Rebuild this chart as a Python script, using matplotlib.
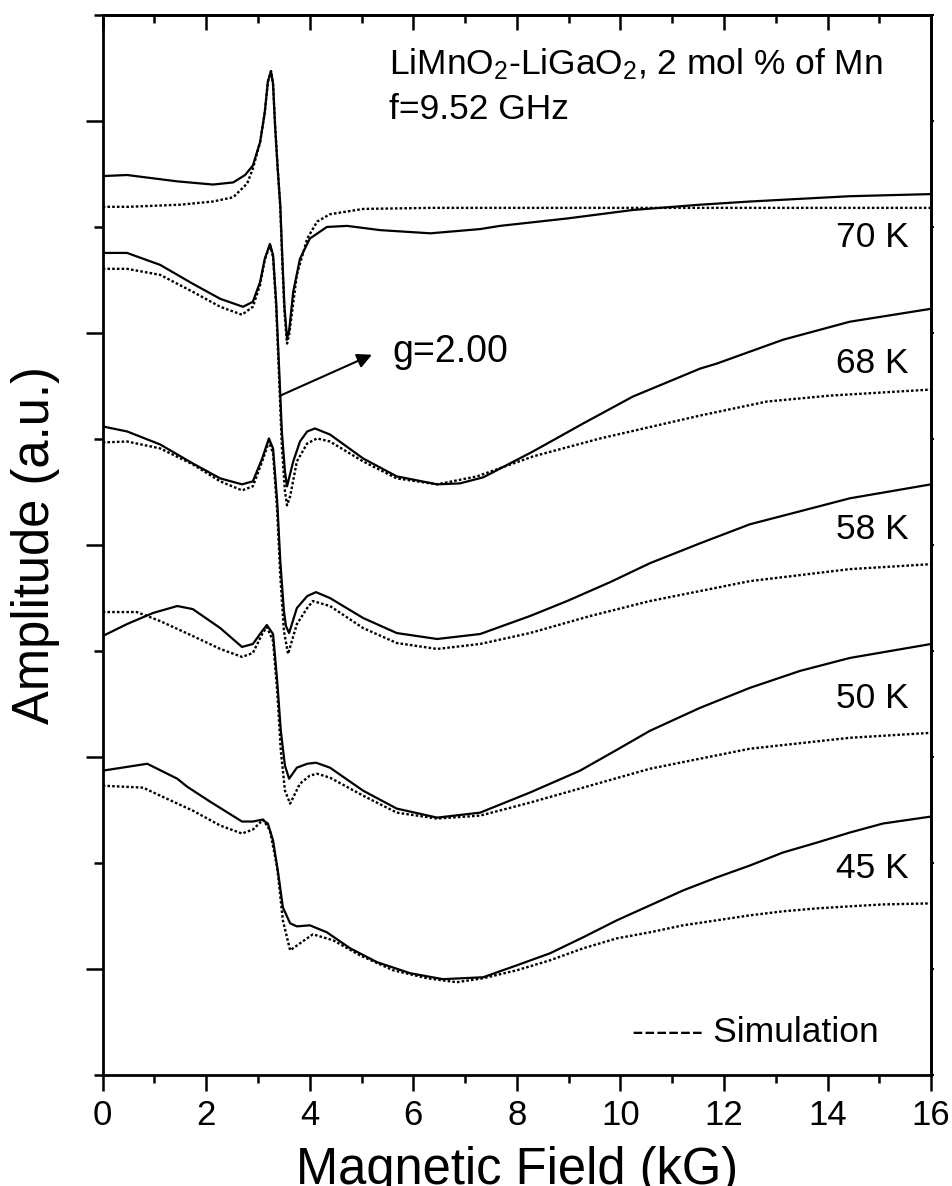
import matplotlib
matplotlib.use("Agg")
import matplotlib.pyplot as plt
from matplotlib.ticker import FixedLocator, NullFormatter

plt.rcParams["font.family"] = ["Liberation Sans", "DejaVu Sans"]
plt.rcParams["mathtext.fontset"] = "custom"
plt.rcParams["mathtext.rm"] = "Liberation Sans"
plt.rcParams["mathtext.it"] = "Liberation Sans:italic"

# EPR spectra, field in kG, amplitude offset per temperature (a.u.)
x_70 = [0.0, 0.47, 1.44, 2.13, 2.52, 2.75, 2.90, 3.04, 3.13, 3.19, 3.25, 3.29, 3.33, 3.38, 3.43,
        3.47, 3.51, 3.56, 3.60, 3.68, 3.81, 4.00, 4.33, 4.72, 5.36, 6.33, 7.29, 7.67, 8.97, 10.24,
        11.54, 12.50, 14.43, 16.0]
y_70 = [8.48, 8.49, 8.43, 8.40, 8.42, 8.49, 8.58, 8.80, 9.08, 9.37, 9.47, 9.35, 8.95, 8.55, 8.20,
        7.70, 7.25, 6.95, 7.02, 7.39, 7.70, 7.89, 8.00, 8.01, 7.97, 7.94, 7.98, 8.01, 8.08, 8.16,
        8.21, 8.24, 8.29, 8.31]
xs_70 = [0.0, 0.5, 1.0, 1.5, 2.13, 2.52, 2.79, 2.90, 3.04, 3.13, 3.19, 3.25, 3.29, 3.33, 3.38,
         3.43, 3.47, 3.51, 3.56, 3.60, 3.75, 3.95, 4.14, 4.39, 5.03, 6.33, 8.0, 10.0, 12.0, 14.0, 16.0]
ys_70 = [8.19, 8.19, 8.20, 8.21, 8.24, 8.28, 8.41, 8.55, 8.80, 9.08, 9.37, 9.47, 9.35, 8.95, 8.55,
         8.18, 7.65, 7.20, 6.90, 6.98, 7.55, 7.89, 8.05, 8.12, 8.17, 8.18, 8.18, 8.18, 8.18, 8.18, 8.18]

x_68 = [0.0, 0.47, 1.11, 1.74, 2.27, 2.71, 2.90, 3.04, 3.13, 3.23, 3.29, 3.35, 3.41, 3.46, 3.52,
        3.56, 3.68, 3.81, 3.95, 4.10, 4.39, 5.03, 5.68, 6.46, 6.90, 7.35, 8.31, 9.28, 10.24, 11.54,
        11.86, 13.14, 14.43, 16.0]
y_68 = [7.755, 7.755, 7.642, 7.464, 7.322, 7.247, 7.294, 7.482, 7.699, 7.840, 7.736, 7.294, 6.635,
        6.071, 5.694, 5.553, 5.788, 5.976, 6.071, 6.099, 6.042, 5.816, 5.647, 5.572, 5.581, 5.638,
        5.882, 6.146, 6.400, 6.664, 6.711, 6.936, 7.106, 7.228]
xs_68 = [0.0, 0.47, 1.11, 1.74, 2.27, 2.69, 2.90, 3.04, 3.13, 3.23, 3.29, 3.35, 3.41, 3.46, 3.52,
         3.56, 3.62, 3.75, 3.95, 4.14, 4.39, 5.03, 5.68, 6.46, 7.23, 8.31, 9.61, 11.54, 12.83, 14.05,
         16.0]
ys_68 = [7.605, 7.605, 7.548, 7.388, 7.247, 7.172, 7.247, 7.454, 7.690, 7.831, 7.718, 7.247, 6.541,
         5.930, 5.506, 5.374, 5.459, 5.788, 5.958, 6.005, 5.976, 5.788, 5.628, 5.572, 5.647, 5.835,
         6.005, 6.221, 6.353, 6.409, 6.466]

x_58 = [0.0, 0.47, 1.11, 1.74, 2.27, 2.69, 2.90, 3.08, 3.21, 3.29, 3.37, 3.43, 3.50, 3.54, 3.60,
        3.75, 3.95, 4.12, 4.39, 5.03, 5.68, 6.46, 7.29, 8.25, 8.97, 9.80, 10.57, 11.54, 12.50, 13.47,
        14.43, 16.0]
y_58 = [6.118, 6.071, 5.948, 5.769, 5.628, 5.572, 5.600, 5.816, 6.005, 5.911, 5.412, 4.847, 4.376,
        4.235, 4.169, 4.405, 4.518, 4.555, 4.499, 4.311, 4.169, 4.113, 4.160, 4.329, 4.471, 4.649,
        4.828, 5.016, 5.195, 5.318, 5.440, 5.572]
xs_58 = [0.0, 0.47, 1.11, 1.74, 2.27, 2.69, 2.90, 3.08, 3.21, 3.29, 3.37, 3.43, 3.50, 3.58, 3.75,
         3.95, 4.06, 4.39, 5.03, 5.68, 6.46, 7.29, 8.25, 9.41, 10.57, 12.50, 14.43, 16.0]
ys_58 = [5.967, 5.976, 5.911, 5.760, 5.600, 5.515, 5.553, 5.788, 5.976, 5.864, 5.318, 4.706, 4.188,
         3.972, 4.254, 4.405, 4.471, 4.424, 4.216, 4.075, 4.019, 4.066, 4.169, 4.329, 4.471, 4.659,
         4.772, 4.819]

x_50 = [0.0, 0.47, 0.97, 1.44, 1.74, 2.27, 2.69, 2.90, 3.08, 3.17, 3.29, 3.37, 3.44, 3.52, 3.60,
        3.75, 3.95, 4.12, 4.39, 5.03, 5.68, 6.46, 7.29, 8.25, 9.22, 9.90, 10.57, 11.54, 12.50, 13.47,
        14.43, 16.0]
y_50 = [4.141, 4.254, 4.358, 4.424, 4.395, 4.216, 4.038, 4.066, 4.188, 4.245, 4.160, 3.718, 3.247,
        2.918, 2.795, 2.899, 2.936, 2.946, 2.899, 2.682, 2.513, 2.428, 2.475, 2.664, 2.871, 3.059,
        3.247, 3.464, 3.652, 3.812, 3.934, 4.066]
xs_50 = [0.0, 0.66, 1.11, 1.74, 2.27, 2.69, 2.90, 3.08, 3.17, 3.29, 3.37, 3.44, 3.52, 3.62, 3.81,
         4.00, 4.14, 4.39, 5.03, 5.68, 6.46, 7.29, 8.25, 9.41, 10.57, 12.50, 14.43, 16.0]
ys_50 = [4.367, 4.367, 4.282, 4.141, 4.019, 3.944, 3.981, 4.160, 4.226, 4.094, 3.624, 3.059, 2.682,
         2.560, 2.748, 2.824, 2.842, 2.805, 2.635, 2.475, 2.419, 2.447, 2.569, 2.729, 2.889, 3.078,
         3.181, 3.228]

x_45 = [0.0, 0.86, 1.44, 1.63, 2.07, 2.69, 2.90, 3.08, 3.19, 3.29, 3.39, 3.48, 3.62, 3.75, 4.00,
        4.33, 4.78, 5.30, 5.94, 6.57, 7.35, 8.00, 8.64, 9.28, 9.93, 10.57, 11.21, 11.86, 12.50, 13.14,
        13.80, 14.43, 15.07, 16.0]
y_45 = [2.871, 2.936, 2.795, 2.720, 2.580, 2.391, 2.391, 2.409, 2.372, 2.212, 1.901, 1.581, 1.431,
        1.402, 1.412, 1.346, 1.195, 1.064, 0.960, 0.904, 0.922, 1.035, 1.148, 1.299, 1.459, 1.600,
        1.741, 1.864, 1.976, 2.099, 2.193, 2.287, 2.372, 2.438]
xs_45 = [0.0, 0.78, 1.11, 1.74, 2.27, 2.69, 2.90, 3.10, 3.23, 3.37, 3.48, 3.62, 3.81, 4.06, 4.45,
         4.97, 5.61, 6.26, 6.84, 7.35, 8.00, 8.64, 9.28, 9.93, 10.57, 11.21, 11.86, 12.50, 13.14,
         13.80, 14.43, 15.07, 16.0]
ys_45 = [2.729, 2.711, 2.635, 2.494, 2.353, 2.278, 2.315, 2.409, 2.306, 1.958, 1.459, 1.176, 1.242,
         1.327, 1.271, 1.129, 0.988, 0.913, 0.875, 0.913, 0.988, 1.082, 1.195, 1.289, 1.346, 1.412,
         1.459, 1.506, 1.544, 1.572, 1.591, 1.609, 1.619]

spectra = [
    ("70 K", x_70, y_70, xs_70, ys_70, 7.81),
    ("68 K", x_68, y_68, xs_68, ys_68, 6.62),
    ("58 K", x_58, y_58, xs_58, ys_58, 5.06),
    ("50 K", x_50, y_50, xs_50, ys_50, 3.46),
    ("45 K", x_45, y_45, xs_45, ys_45, 1.86),
]

fig = plt.figure(figsize=(9.52, 11.86), dpi=100)
ax = fig.add_axes([0.1079, 0.0936, 0.8701, 0.8938])

dot_style = (0, (1.1, 0.9))
for label, xe, ye, xsim, ysim, ylab in spectra:
    ax.plot(xe, ye, color="black", lw=1.6, solid_joinstyle="round")
    ax.plot(xsim, ysim, color="black", lw=1.7, linestyle=dot_style)
    ax.text(15.56, ylab, label, ha="right", va="baseline", fontsize=25.5)

ax.set_xlim(0, 16)
ax.set_ylim(0, 10)

ax.xaxis.set_major_locator(FixedLocator(range(0, 17, 2)))
ax.xaxis.set_minor_locator(FixedLocator(range(1, 16, 2)))
ax.yaxis.set_major_locator(FixedLocator([1, 3, 5, 7, 9]))
ax.yaxis.set_minor_locator(FixedLocator([0, 2, 4, 6, 8, 10]))
ax.yaxis.set_major_formatter(NullFormatter())

ax.tick_params(axis="x", which="both", direction="out", width=1.8, labelsize=25, pad=6)
ax.tick_params(axis="x", which="major", length=11.5)
ax.tick_params(axis="x", which="minor", length=6)
ax.tick_params(axis="y", which="both", direction="out", width=1.8)
ax.tick_params(axis="y", which="major", length=12.5)
ax.tick_params(axis="y", which="minor", length=6.5)
for sp in ax.spines.values():
    sp.set_linewidth(2.0)

# inward ticks along the top and right frame
top = ax.secondary_xaxis("top")
top.xaxis.set_major_locator(FixedLocator(range(0, 17, 2)))
top.xaxis.set_minor_locator(FixedLocator(range(1, 16, 2)))
top.tick_params(axis="x", which="both", direction="in", width=1.8, labeltop=False)
top.tick_params(axis="x", which="major", length=11)
top.tick_params(axis="x", which="minor", length=6)
top.spines["top"].set_linewidth(2.0)

right = ax.secondary_yaxis("right")
right.yaxis.set_major_locator(FixedLocator([1, 3, 5, 7, 9]))
right.yaxis.set_minor_locator(FixedLocator([0, 2, 4, 6, 8, 10]))
right.tick_params(axis="y", which="both", direction="out", width=1.5, length=2.5, labelright=False)
right.spines["right"].set_linewidth(2.0)

ax.set_xlabel("Magnetic Field (kG)", fontsize=36.5)
ax.xaxis.label.set_va("baseline")
ax.xaxis.set_label_coords(0.5, -0.1028)
ax.set_ylabel("Amplitude (a.u.)", fontsize=36.5, labelpad=15)

ax.text(5.53, 9.44, r"LiMnO$_\mathrm{2}$-LiGaO$_\mathrm{2}$, 2 mol % of Mn", fontsize=25.5, va="baseline")
ax.text(5.53, 9.02, "f=9.52 GHz", fontsize=25.5, va="baseline")

ax.annotate("", xy=(5.20, 6.795), xytext=(3.43, 6.409),
            arrowprops=dict(arrowstyle="-|>", color="black", lw=1.5, mutation_scale=22,
                            shrinkA=0, shrinkB=0))
ax.text(5.59, 6.73, "g=2.00", fontsize=27, va="baseline")

ax.text(10.22, 0.31, "------ Simulation", fontsize=25.5, va="baseline")

fig.savefig("out.png", dpi=100)
